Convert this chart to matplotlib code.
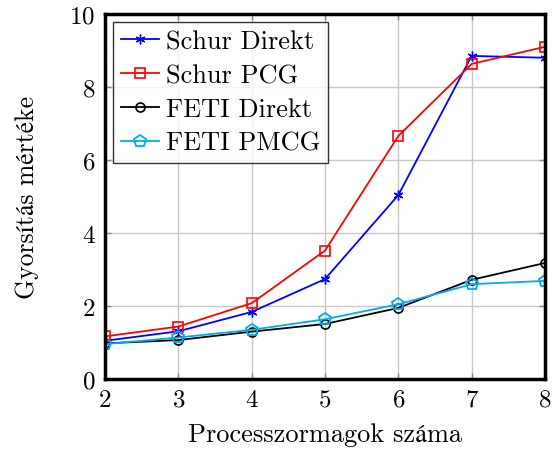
import matplotlib.pyplot as plt

plt.rcParams['font.family'] = ['cmr10', 'STIXGeneral', 'DejaVu Serif']
plt.rcParams['mathtext.fontset'] = 'cm'
plt.rcParams['axes.formatter.use_mathtext'] = True

processors = [2, 3, 4, 5, 6, 7, 8]
schur_direkt = [1.05, 1.31, 1.84, 2.74, 5.04, 8.85, 8.80]
schur_pcg = [1.17, 1.44, 2.08, 3.52, 6.66, 8.63, 9.10]
feti_direkt = [0.98, 1.07, 1.30, 1.51, 1.95, 2.72, 3.18]
feti_pmcg = [0.96, 1.14, 1.35, 1.64, 2.05, 2.60, 2.69]

fig = plt.figure(figsize=(5.53, 4.52), dpi=100)
ax = fig.add_axes([0.19, 0.159, 0.7955, 0.808])

ax.plot(processors, schur_direkt, color='blue', marker=(6, 2, 0), markersize=7,
        linewidth=1.3, label='Schur Direkt')
ax.plot(processors, schur_pcg, color='red', marker='s', markersize=7, mfc='none',
        mew=1.2, linewidth=1.3, label='Schur PCG')
ax.plot(processors, feti_direkt, color='black', marker='o', markersize=6.5, mfc='none',
        mew=1.2, linewidth=1.3, label='FETI Direkt')
ax.plot(processors, feti_pmcg, color='#00aaee', marker='p', markersize=9, mfc='none',
        mew=1.3, linewidth=1.3, label='FETI PMCG')

ax.set_xlim(2, 8)
ax.set_ylim(0, 10)
ax.set_xticks(processors)
ax.set_yticks([0, 2, 4, 6, 8, 10])
ax.grid(True, color='#c8c8c8', linewidth=1)
ax.set_axisbelow(True)
for s in ax.spines.values():
    s.set_linewidth(2.5)
ax.tick_params(direction='in', length=4, width=1, labelsize=18, color='#888888',
               top=True, right=True, pad=7)

ax.set_xlabel('Processzormagok száma', fontsize=19, labelpad=8)
ax.set_ylabel('Gyorsítás mértéke', fontsize=18.5, labelpad=22)

leg = ax.legend(loc='upper left', fontsize=19, frameon=True, fancybox=False,
                edgecolor='black', handlelength=1.45, borderaxespad=0.3,
                labelspacing=0.38, handletextpad=0.25, borderpad=0.3)
leg.get_frame().set_linewidth(1)

fig.savefig('out.png', dpi=100)
